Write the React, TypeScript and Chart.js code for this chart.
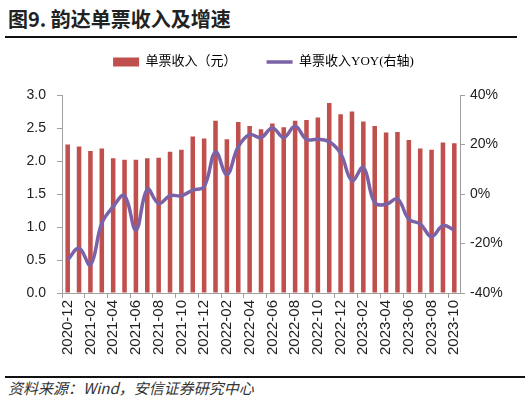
import React, { useEffect, useRef } from "react";
import { Chart, registerables } from "chart.js";

Chart.register(...registerables);

const months: string[] = [
  "2020-12",
  "2021-01", "2021-02", "2021-03", "2021-04", "2021-05", "2021-06",
  "2021-07", "2021-08", "2021-09", "2021-10", "2021-11", "2021-12",
  "2022-01", "2022-02", "2022-03", "2022-04", "2022-05", "2022-06",
  "2022-07", "2022-08", "2022-09", "2022-10", "2022-11", "2022-12",
  "2023-01", "2023-02", "2023-03", "2023-04", "2023-05", "2023-06",
  "2023-07", "2023-08", "2023-09", "2023-10",
];

const revenuePerParcel: number[] = [
  2.25, 2.22, 2.15, 2.19, 2.04, 2.02, 2.02, 2.04, 2.05, 2.14, 2.17, 2.37,
  2.34, 2.61, 2.33, 2.59, 2.53, 2.48, 2.57, 2.51, 2.61, 2.62, 2.66, 2.88,
  2.71, 2.75, 2.6, 2.53, 2.43, 2.44, 2.32, 2.19, 2.17, 2.28, 2.27,
];

const revenueYoY: number[] = [
  -26.6, -21.9, -28.6, -11.8, -5.1, -0.7, -14.5, 1.9, -3.8, -0.7, -0.7, 1.6,
  3.0, 17.0, 7.9, 19.1, 24.0, 22.8, 26.7, 22.8, 27.4, 22.1, 22.1, 21.1,
  16.4, 5.4, 10.7, -3.5, -4.2, -2.0, -10.2, -12.1, -17.2, -12.8, -14.5,
];

const barLabel = "单票收入（元）";
const lineLabel = "单票收入YOY(右轴)";

const BAR_COLOR = "#c0504d";
const LINE_COLOR = "#7b62a6";
const AXIS_COLOR = "#a0a0a0";
const TICK_FONT = "'Liberation Sans', Arial, sans-serif";
const CJK_FONT = "'Noto Sans CJK SC', sans-serif";
const LEGEND_FONT = "'Liberation Serif', 'Noto Sans CJK SC', serif";

const CANVAS_TOP = 20;
const CANVAS_H = 352;
const AREA_BOTTOM = 293 - CANVAS_TOP;

function ChartCanvas() {
  const ref = useRef<HTMLCanvasElement | null>(null);
  useEffect(() => {
    if (!ref.current) return;
    const chart = new Chart(ref.current, {
      type: "bar",
      data: {
        labels: months,
        datasets: [
          {
            type: "line",
            label: lineLabel,
            data: revenueYoY,
            yAxisID: "y1",
            borderColor: LINE_COLOR,
            backgroundColor: LINE_COLOR,
            borderWidth: 3.5,
            pointRadius: 0,
            tension: 0.4,
            order: 0,
          } as any,
          {
            type: "bar",
            label: barLabel,
            data: revenuePerParcel,
            yAxisID: "y",
            backgroundColor: BAR_COLOR,
            barPercentage: 0.4,
            categoryPercentage: 1,
            order: 1,
          },
        ],
      },
      options: {
        responsive: false,
        animation: false,
        maintainAspectRatio: false,
        layout: { padding: { top: 5.5, left: 0, right: 5, bottom: 0 } },
        plugins: {
          tooltip: { enabled: false },
          subtitle: {
            display: true,
            text: "",
            position: "top",
            weight: 500,
            font: { size: 10, lineHeight: 1 },
            padding: { top: 0, bottom: 6.5 },
          } as any,
          legend: {
            display: true,
            position: "top",
            labels: {
              font: { family: LEGEND_FONT, size: 13 },
              color: "#222",
              usePointStyle: true,
              pointStyleWidth: 26,
              boxHeight: 9,
              padding: 30,
              generateLabels: () => [
                {
                  text: barLabel,
                  fillStyle: BAR_COLOR,
                  strokeStyle: BAR_COLOR,
                  lineWidth: 0,
                  pointStyle: "rect",
                  datasetIndex: 1,
                  hidden: false,
                },
                {
                  text: lineLabel,
                  fillStyle: LINE_COLOR,
                  strokeStyle: LINE_COLOR,
                  lineWidth: 3.5,
                  pointStyle: "line",
                  datasetIndex: 0,
                  hidden: false,
                },
              ],
            },
          },
        },
        scales: {
          x: {
            type: "category",
            offset: true,
            afterFit: (s: any) => {
              s.height = CANVAS_H - AREA_BOTTOM;
            },
            grid: {
              offset: true,
              drawOnChartArea: false,
              drawTicks: true,
              tickLength: 5,
              color: (ctx: any) =>
                ctx.index !== undefined && ctx.index % 2 === 0 ? AXIS_COLOR : "rgba(0,0,0,0)",
            },
            border: { display: true, color: AXIS_COLOR, width: 1 },
            ticks: {
              autoSkip: false,
              minRotation: 90,
              maxRotation: 90,
              padding: 2,
              color: "#222",
              font: { family: TICK_FONT, size: 15 },
              callback: (_v: any, i: number) => (i % 2 === 0 ? months[i] : ""),
            },
          },
          y: {
            position: "left",
            min: 0,
            max: 3,
            afterFit: (s: any) => {
              s.width = 62;
            },
            grid: {
              drawOnChartArea: false,
              drawTicks: true,
              tickLength: 5,
              color: AXIS_COLOR,
            },
            border: { display: true, color: AXIS_COLOR, width: 1 },
            ticks: {
              stepSize: 0.5,
              padding: 11,
              color: "#222",
              font: { family: TICK_FONT, size: 14 },
              callback: (v: any) => Number(v).toFixed(1),
            },
          },
          y1: {
            position: "right",
            min: -40,
            max: 40,
            afterFit: (s: any) => {
              s.width = 67;
            },
            grid: {
              drawOnChartArea: false,
              drawTicks: true,
              tickLength: 5,
              color: AXIS_COLOR,
            },
            border: { display: true, color: AXIS_COLOR, width: 1 },
            ticks: {
              stepSize: 20,
              padding: 5,
              color: "#222",
              font: { family: TICK_FONT, size: 14 },
              callback: (v: any) => `${v}%`,
            },
          },
        },
      },
    });
    return () => chart.destroy();
  }, []);
  return (
    <canvas
      ref={ref}
      width={532}
      height={CANVAS_H}
      style={{ position: "absolute", left: 0, top: CANVAS_TOP, width: 532, height: CANVAS_H }}
    />
  );
}

export default function App() {
  return (
    <div
      style={{
        position: "fixed",
        left: 0,
        top: 0,
        width: 532,
        height: 401,
        background: "#fff",
        overflow: "hidden",
      }}
    >
      <div
        style={{
          position: "absolute",
          left: 8,
          top: 4,
          fontFamily: CJK_FONT,
          fontSize: 20,
          fontWeight: 700,
          color: "#222",
          lineHeight: "30px",
          whiteSpace: "nowrap",
        }}
      >
        图9. 韵达单票收入及增速
      </div>
      <div
        style={{
          position: "absolute",
          left: 5,
          top: 36,
          width: 512,
          height: 2,
          background: "#111",
        }}
      />
      <ChartCanvas />
      <div
        style={{
          position: "absolute",
          left: 5,
          top: 376,
          width: 520,
          height: 2,
          background: "#111",
        }}
      />
      <div
        style={{
          position: "absolute",
          left: 8,
          top: 378,
          fontFamily: CJK_FONT,
          fontSize: 15,
          fontStyle: "italic",
          color: "#333",
          lineHeight: "20px",
          whiteSpace: "nowrap",
        }}
      >
        资料来源：Wind，安信证券研究中心
      </div>
    </div>
  );
}
